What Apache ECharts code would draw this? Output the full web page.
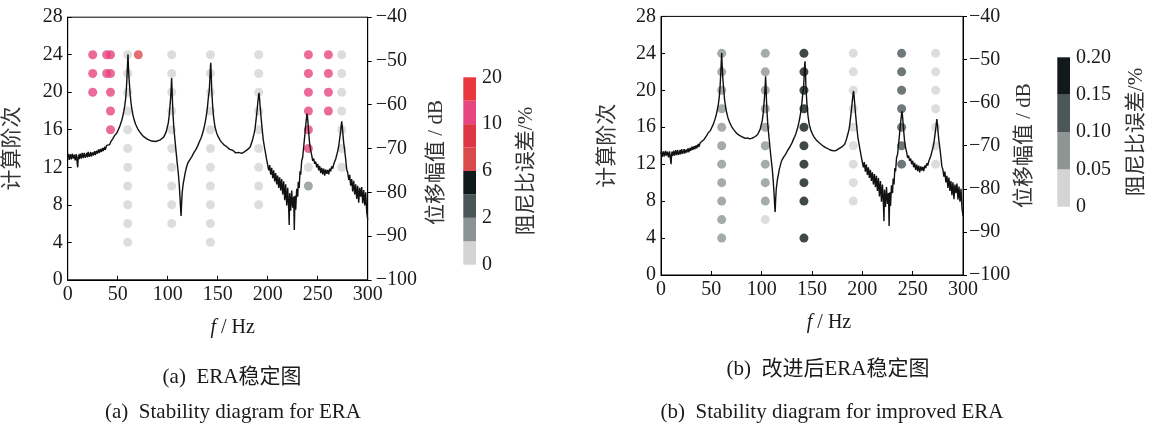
<!DOCTYPE html>
<html>
<head>
<meta charset="utf-8">
<script src="https://cdn.jsdelivr.net/npm/echarts@6/dist/echarts.min.js"></script>
<style>
html,body{margin:0;padding:0;background:#fff;}
#c{width:1157px;height:425px;}
</style>
</head>
<body>
<div id="c"></div>
<script>
// ---- data ----
const xTicks = [0, 50, 100, 150, 200, 250, 300];
// frequency response curve: [f (Hz), amplitude (dB)]
const frf = [
[0,-72.0],[0.5,-71.2],[1,-71.4],[1.5,-72.6],[2,-72.3],[2.5,-71.3],[3,-71.6],[3.5,-72.5],[4,-72.1],[4.5,-71.2],[5,-71.3],[5.5,-72.3],[6,-72.4],[6.5,-71.4],[7,-71.8],[7.5,-72.7],[8,-72.6],[8.5,-71.3],[9,-71.5],
[10,-74.3],[10.5,-72.0],[11,-71.4],[11.5,-72.4],[12,-72.2],[12.5,-71.2],[13,-71.6],[13.5,-72.3],[14,-71.9],[14.5,-71.0],[15,-71.2],[15.5,-72.2],[16,-72.0],[16.5,-71.0],[17,-71.3],[17.5,-72.1],[18,-71.7],
[19,-71.0],[19.5,-72.0],[20,-71.8],[20.5,-70.8],[21,-71.1],[21.5,-71.9],[22,-71.5],[23,-70.8],[23.5,-71.8],[24,-71.6],[25,-70.9],[25.5,-71.6],[26,-71.3],[27,-70.6],[27.5,-71.5],[28,-71.2],
[29,-70.5],[29.5,-71.2],[30,-70.9],[31,-70.2],[31.5,-71.0],[32,-70.8],[33,-70.1],[33.5,-70.8],[34,-70.5],[35,-69.9],[35.5,-70.6],[36,-70.3],[37,-69.6],[37.5,-70.3],[38,-70.0],
[39,-69.3],[40,-69.6],[41,-68.9],[42,-69.1],[43,-68.5],[44,-68.2],[45,-67.8],[46,-67.6],[47,-67.0],[48,-67.0],
[49,-66.5],[50,-66.0],[51,-65.5],[52,-65.0],[53,-64.3],[54,-63.6],[55,-62.7],[56,-61.6],[57,-60.3],[57.8,-58.9],
[58.5,-57.0],[59,-55.0],[59.5,-52.5],[59.9,-50.3],[60.3,-48.5],[60.7,-51.0],[61.2,-53.5],[61.8,-55.5],[62.5,-57.6],[63.3,-59.6],
[64.2,-61.0],[65.2,-62.3],[66.5,-63.5],[68,-64.5],[70,-65.5],[72,-66.2],[74,-66.8],[76,-67.3],[78,-67.6],[80,-67.9],
[82,-68.1],[84,-68.3],[86,-68.2],[88,-68.4],[90,-68.3],[92,-68.1],[94,-67.8],[96,-67.4],[97.3,-67.0],[98.5,-66.2],
[99.5,-65.2],[100.6,-64.2],[101.5,-62.5],[102.3,-60.3],[103,-58.2],[103.5,-56.0],[103.9,-53.9],[104.3,-56.0],[104.8,-59.5],[105.4,-62.5],
[106.2,-65.5],[107.3,-68.1],[108.5,-71.0],[109.6,-73.5],[110.6,-75.6],[111.6,-78.5],[112.4,-81.5],[113.1,-84.5],[113.4,-85.4],[113.8,-83.0],
[114.5,-80.0],[115.6,-77.9],[116.5,-76.8],[117.5,-75.5],[118.3,-74.8],[119,-74.1],[120,-73.4],[121,-73.6],[122,-72.6],[123,-72.8],
[124,-71.9],[125,-71.8],[126,-71.0],[127,-71.2],[128,-70.3],[129,-70.0],[130,-69.4],[131,-69.0],[132,-68.3],[133,-67.8],
[134,-67.2],[135,-66.4],[136,-65.6],[137,-64.6],[138,-63.4],[139,-61.9],[140,-60.0],[140.8,-58.0],[141.6,-56.7],[142.3,-53.5],
[142.8,-51.0],[143.1,-50.4],[143.5,-53.0],[144.1,-57.0],[145,-60.4],[146,-63.0],[147.3,-65.1],[149,-66.5],[150.5,-67.3],[152.3,-68.1],
[154,-68.6],[156,-69.1],[158,-69.5],[159,-69.6],[160,-69.9],[161,-69.7],[162,-70.2],[163,-70.1],[164,-70.5],[165,-70.4],
[166,-70.7],[167,-70.6],[168,-71.0],[169,-70.8],[170,-71.1],[171,-70.9],[172,-71.2],[173,-71.0],[174,-71.1],[175,-70.9],
[176,-70.8],[177,-70.7],[178,-70.5],[179,-70.3],[180,-70.2],[181,-70.0],[182.3,-69.7],[183.5,-69.0],[184.5,-68.3],[185.5,-67.4],
[186.5,-66.5],[187.3,-65.5],[188.3,-63.5],[189.3,-61.5],[190.1,-59.5],[190.8,-58.0],[191.3,-57.3],[191.8,-58.5],[192.5,-60.5],[193.3,-62.7],
[194.2,-65.0],[195.6,-68.1],[197,-70.0],[198,-71.3],[199,-72.6],[200,-73.0],[201,-75.0],[202,-73.8],[203,-76.0],[204,-74.4],
[205,-76.8],[206,-75.0],[207,-77.5],[208,-75.6],[209,-78.2],[210,-76.2],[211,-79.0],[212,-76.6],[213,-79.6],[214,-77.0],
[215,-80.5],[216,-77.5],[217,-81.8],[218,-78.2],[219,-83.0],[220,-79.0],[221,-84.0],[221.5,-87.5],[222,-80.2],[223,-84.2],
[224,-79.6],[225,-83.5],[226,-81.0],[226.6,-88.6],[227.3,-80.8],[228,-84.0],[229,-79.2],[230,-81.0],[230.6,-77.6],[231.5,-79.0],
[232.3,-75.2],[233,-76.0],[234,-72.8],[235,-72.0],[236,-69.6],[237,-67.2],[237.8,-65.2],[238.5,-63.6],[239.3,-62.0],[239.8,-62.8],
[240.3,-64.2],[241.3,-67.2],[242,-69.0],[243,-70.5],[244,-71.5],[245,-72.8],[246,-72.3],[247,-73.5],[248,-73.0],[249,-74.3],
[250,-73.5],[251,-75.0],[252,-74.0],[253,-75.6],[254,-74.4],[255,-75.9],[256,-74.6],[257,-76.2],[258,-74.8],[259,-75.8],
[260,-74.9],[261,-75.9],[262,-74.6],[263,-75.2],[264,-74.1],[265,-74.6],[266,-73.6],[267,-73.5],[268,-72.4],[269,-71.5],
[270,-70.6],[271,-69.5],[272.3,-67.2],[273.2,-65.5],[274,-63.8],[274.6,-65.0],[275.3,-67.0],[276,-68.7],[277,-70.5],[278,-72.5],
[279,-74.8],[280,-75.5],[281,-77.2],[282,-76.0],[283,-78.5],[284,-77.0],[285,-79.8],[286,-77.4],[287,-80.5],[288,-78.2],
[289,-81.5],[290,-78.5],[291,-82.4],[292,-79.0],[293,-81.0],[294,-78.8],[295,-82.5],[296,-79.5],[297,-83.0],[298,-80.0],
[299,-84.5],[300,-86.3]
];
// stability poles: [f (Hz), order, damping-ratio error (%)]
const polesERA = [
[25,24,12],[25,22,12],[25,20,12],
[39,24,12],[39,22,12],
[42.8,24,12],[42.8,22,12],[42.8,20,12],[42.8,18,12],[42.8,16,12],
[60,24,0.5],[60,22,0.5],[60,20,0.5],[60,18,0.5],[60,16,0.5],[60,14,0.5],[60,12,0.5],[60,10,0.5],[60,8,0.5],[60,6,0.5],[60,4,0.5],
[70.6,24,7],
[104,24,0.5],[104,22,0.5],[104,20,0.5],[104,18,0.5],[104,16,0.5],[104,14,0.5],[104,12,0.5],[104,10,0.5],[104,8,0.5],[104,6,0.5],
[142.7,24,0.5],[142.7,22,0.5],[142.7,20,0.5],[142.7,18,0.5],[142.7,16,0.5],[142.7,14,0.5],[142.7,12,0.5],[142.7,10,0.5],[142.7,8,0.5],[142.7,6,0.5],[142.7,4,0.5],
[191,24,0.5],[191,22,0.5],[191,20,0.5],[191,18,0.5],[191,16,0.5],[191,14,0.5],[191,12,0.5],[191,10,0.5],[191,8,0.5],
[240.7,24,12],[240.7,22,12],[240.7,20,12],[240.7,18,12],[240.7,16,12],[240.7,14,12],[240.7,12,0.5],[240.7,10,1.5],
[260.7,24,12],[260.7,22,12],[260.7,20,12],[260.7,18,12],
[274,24,0.5],[274,22,0.5],[274,20,0.5],[274,18,0.5],[274,16,0.5],[274,14,0.5],[274,12,0.5]
];
const polesImproved = [
[60.3,24,0.07],[60.3,22,0.07],[60.3,20,0.07],[60.3,18,0.07],[60.3,16,0.07],[60.3,14,0.07],[60.3,12,0.07],[60.3,10,0.07],[60.3,8,0.07],[60.3,6,0.07],[60.3,4,0.07],
[103.6,24,0.07],[103.6,22,0.07],[103.6,20,0.07],[103.6,18,0.07],[103.6,16,0.07],[103.6,14,0.07],[103.6,12,0.07],[103.6,10,0.07],[103.6,8,0.07],[103.6,6,0.02],
[142,24,0.18],[142,22,0.18],[142,20,0.18],[142,18,0.18],[142,16,0.18],[142,14,0.18],[142,12,0.18],[142,10,0.18],[142,8,0.18],[142,4,0.18],
[191,24,0.02],[191,22,0.02],[191,20,0.02],[191,18,0.02],[191,16,0.02],[191,14,0.02],[191,12,0.02],[191,10,0.02],[191,8,0.02],
[239,24,0.12],[239,22,0.12],[239,20,0.12],[239,18,0.12],[239,16,0.12],[239,14,0.12],[239,12,0.12],
[272.8,24,0.02],[272.8,22,0.02],[272.8,20,0.02],[272.8,18,0.02],[272.8,16,0.02],[272.8,14,0.02],[272.8,12,0.02]
];
// colour scales (bottom to top)
const binsERA = [0, 1, 2, 4, 6, 8, 10, 15, 20];
const colorsERA = ['#d4d4d4', '#8b9294', '#4b5658', '#101a1a', '#d94a4d', '#dd3644', '#e6457f', '#e8373f'];
const tickLabelsERA = ['0', '2', '6', '10', '20'];
const binsImproved = [0, 0.05, 0.10, 0.15, 0.20];
const colorsImproved = ['#d4d4d4', '#8e9595', '#4b5658', '#101a1a'];
const tickLabelsImproved = ['0', '0.05', '0.10', '0.15', '0.20'];

// ---- chart ----
const FONT = "'Liberation Serif', 'Noto Sans CJK SC', serif";
const TXT = '#1a1a1a';
const chart = echarts.init(document.getElementById('c'), null, {renderer: 'canvas'});

function pieces(bins, colors) {
  return colors.map((c, i) => ({gte: bins[i], lt: bins[i + 1] + (i === colors.length - 1 ? 1e-9 : 0), color: c}));
}
function xAx(g, gapPad) {
  return {
    gridIndex: g, type: 'value', min: xTicks[0], max: xTicks[xTicks.length - 1], interval: xTicks[1] - xTicks[0],
    axisLine: {show: true, lineStyle: {color: '#000', width: 1}},
    axisTick: {show: true, inside: true, length: 4, lineStyle: {color: '#000'}},
    axisLabel: {fontFamily: FONT, fontSize: 20, color: TXT, margin: 5},
    splitLine: {show: false},
    name: '{i|f} / Hz', nameLocation: 'middle', nameGap: 38,
    nameTextStyle: {fontFamily: FONT, fontSize: 20, color: TXT, padding: [0, 0, 0, gapPad],
      rich: {i: {fontFamily: FONT, fontSize: 20, fontStyle: 'italic', color: TXT}}}
  };
}
function yLeft(g, gap) {
  return {
    gridIndex: g, type: 'value', position: 'left', min: 0, max: 28, interval: 4,
    axisLine: {show: true, lineStyle: {color: '#000', width: 1}},
    axisTick: {show: true, inside: true, length: 4, lineStyle: {color: '#000'}},
    axisLabel: {fontFamily: FONT, fontSize: 20, color: TXT, margin: 5},
    splitLine: {show: false},
    name: '计算阶次', nameLocation: 'middle', nameGap: gap, nameRotate: 90,
    nameTextStyle: {fontFamily: FONT, fontSize: 21, color: '#333'}
  };
}
function yRight(g, gap, margin, pad) {
  return {
    gridIndex: g, type: 'value', position: 'right', min: -100, max: -40, interval: 10,
    axisLine: {show: true, lineStyle: {color: '#000', width: 1}},
    axisTick: {show: true, inside: false, length: 4, lineStyle: {color: '#000'}},
    axisLabel: {fontFamily: FONT, fontSize: 20, color: TXT, margin: margin,
      formatter: v => String(v).replace('-', '\u2212')},
    splitLine: {show: false},
    name: '位移幅值 / dB', nameLocation: 'middle', nameGap: gap, nameRotate: 90,
    nameTextStyle: {fontFamily: FONT, fontSize: 21, color: '#333', padding: [0, pad, 0, 0]}
  };
}
function cbY(g, n, labels, gap) {
  return {
    gridIndex: g, type: 'value', position: 'right', min: 0, max: n, interval: n / (labels.length - 1),
    axisLine: {show: false}, axisTick: {show: false}, splitLine: {show: false},
    axisLabel: {fontFamily: FONT, fontSize: 20, color: TXT, margin: 6,
      formatter: v => labels[Math.round(v / (n / (labels.length - 1)))]},
    name: '阻尼比误差/%', nameLocation: 'middle', nameGap: gap, nameRotate: 90,
    nameTextStyle: {fontFamily: FONT, fontSize: 21, color: '#333'}
  };
}
function cbSeries(colors, xi, yi, stack) {
  return colors.map(c => ({
    type: 'bar', xAxisIndex: xi, yAxisIndex: yi, stack: stack, data: [1],
    barWidth: '100%', itemStyle: {color: c}, silent: true
  }));
}

const option = {
  animation: false,
  backgroundColor: '#fff',
  grid: [
    {left: 67.7, top: 17.2, width: 300, height: 262.6, show: true, borderColor: '#000', borderWidth: 1, backgroundColor: 'transparent'},
    {left: 661, top: 16.4, width: 302, height: 258.6, show: true, borderColor: '#000', borderWidth: 1, backgroundColor: 'transparent'},
    {left: 463.3, top: 77.3, width: 12.7, height: 187.4},
    {left: 1057.3, top: 57.3, width: 12.7, height: 149.4}
  ],
  xAxis: [
    xAx(0, 30), xAx(1, 34),
    {gridIndex: 2, type: 'category', data: ['c'], show: false},
    {gridIndex: 3, type: 'category', data: ['c'], show: false}
  ],
  yAxis: [
    yLeft(0, 45), yRight(0, 58, 8, 28),
    yLeft(1, 43), yRight(1, 44, 6, 0),
    cbY(2, colorsERA.length, tickLabelsERA, 40),
    cbY(3, colorsImproved.length, tickLabelsImproved, 56)
  ],
  visualMap: [
    {type: 'piecewise', show: false, seriesIndex: 0, dimension: 2, pieces: pieces(binsERA, colorsERA)},
    {type: 'piecewise', show: false, seriesIndex: 2, dimension: 2, pieces: pieces(binsImproved, colorsImproved)}
  ],
  series: [
    {type: 'scatter', xAxisIndex: 0, yAxisIndex: 0, data: polesERA, symbolSize: 9, z: 2},
    {type: 'line', xAxisIndex: 0, yAxisIndex: 1, data: frf, showSymbol: false, symbol: 'none',
      lineStyle: {color: '#111', width: 1.4}, z: 3},
    {type: 'scatter', xAxisIndex: 1, yAxisIndex: 2, data: polesImproved, symbolSize: 9, z: 2},
    {type: 'line', xAxisIndex: 1, yAxisIndex: 3, data: frf, showSymbol: false, symbol: 'none',
      lineStyle: {color: '#111', width: 1.4}, z: 3}
  ].concat(cbSeries(colorsERA, 2, 4, 'cbA'), cbSeries(colorsImproved, 3, 5, 'cbB')),
  graphic: [
    {type: 'text', x: 232, y: 377, style: {text: '(a)  ERA稳定图', font: "21px " + FONT, fill: TXT, textAlign: 'center', textVerticalAlign: 'middle'}},
    {type: 'text', x: 828, y: 369, style: {text: '(b)  改进后ERA稳定图', font: "21px " + FONT, fill: TXT, textAlign: 'center', textVerticalAlign: 'middle'}},
    {type: 'text', x: 233, y: 412, style: {text: '(a)  Stability diagram for ERA', font: "21px " + FONT, fill: TXT, textAlign: 'center', textVerticalAlign: 'middle'}},
    {type: 'text', x: 832, y: 412, style: {text: '(b)  Stability diagram for improved ERA', font: "21px " + FONT, fill: TXT, textAlign: 'center', textVerticalAlign: 'middle'}}
  ]
};
chart.setOption(option);
</script>
</body>
</html>
